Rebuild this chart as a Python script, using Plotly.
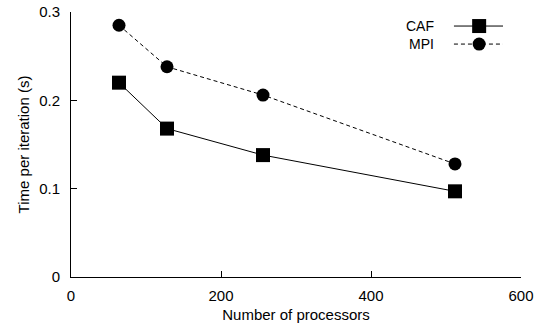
import plotly.graph_objects as go

processors = [64, 128, 256, 512]
caf_time = [0.220, 0.168, 0.138, 0.097]
mpi_time = [0.285, 0.238, 0.206, 0.128]
series_names = ["CAF", "MPI"]

font_family = "Liberation Sans, Arial, Helvetica, sans-serif"

fig = go.Figure()
fig.add_trace(go.Scatter(
    x=processors, y=caf_time, mode="lines+markers", name=series_names[0],
    line=dict(color="black", width=1),
    marker=dict(symbol="square", size=14, color="black"),
    showlegend=False,
))
fig.add_trace(go.Scatter(
    x=processors, y=mpi_time, mode="lines+markers", name=series_names[1],
    line=dict(color="black", width=1, dash="4px,3px"),
    marker=dict(symbol="circle", size=13, color="black"),
    showlegend=False,
))

# Custom legend (text left of symbol)
leg_x0, leg_x1, leg_xm = 0.851, 0.960, 0.907
leg_y = [0.947, 0.879]
shapes = []
annotations = []
for i, (name, dash) in enumerate(zip(series_names, ["solid", "4px,3px"])):
    y = leg_y[i]
    shapes.append(dict(type="line", xref="paper", yref="paper",
                       x0=leg_x0, x1=leg_x1, y0=y, y1=y,
                       line=dict(color="black", width=1, dash=dash)))
    if i == 0:
        shapes.append(dict(type="rect", xref="paper", yref="paper",
                           xsizemode="pixel", ysizemode="pixel",
                           xanchor=leg_xm, yanchor=y,
                           x0=-7, x1=7, y0=-7, y1=7,
                           fillcolor="black", line=dict(width=0)))
    else:
        shapes.append(dict(type="circle", xref="paper", yref="paper",
                           xsizemode="pixel", ysizemode="pixel",
                           xanchor=leg_xm, yanchor=y,
                           x0=-6.5, x1=6.5, y0=-6.5, y1=6.5,
                           fillcolor="black", line=dict(width=0)))
    annotations.append(dict(text=name, xref="paper", yref="paper",
                            x=0.810, y=y, xanchor="right", yanchor="middle",
                            showarrow=False,
                            font=dict(size=14, color="black", family=font_family)))

fig.update_layout(
    width=547, height=328,
    margin=dict(l=71, r=26, t=12, b=51),
    paper_bgcolor="white", plot_bgcolor="white",
    font=dict(family=font_family, size=15, color="black"),
    shapes=shapes, annotations=annotations,
    xaxis=dict(range=[0, 600], tickvals=[0, 200, 400, 600],
               ticks="inside", ticklen=6, tickcolor="black",
               showline=True, linecolor="black", linewidth=1,
               showgrid=False, zeroline=False, automargin=False,
               ticklabelstandoff=5,
               title=dict(text="Number of processors", standoff=6,
                          font=dict(size=15)),
               tickfont=dict(size=15)),
    yaxis=dict(range=[0, 0.3], tickvals=[0, 0.1, 0.2, 0.3],
               ticktext=["0", "0.1", "0.2", "0.3"],
               ticks="inside", ticklen=6, tickcolor="black",
               showline=True, linecolor="black", linewidth=1,
               showgrid=False, zeroline=False, automargin=False,
               ticklabelstandoff=7,
               title=dict(text="Time per iteration (s)", standoff=5,
                          font=dict(size=15)),
               tickfont=dict(size=15)),
)

fig.write_html("out.html", config={"displayModeBar": False},
               post_script="document.body.style.margin='0';document.body.style.padding='0';")
